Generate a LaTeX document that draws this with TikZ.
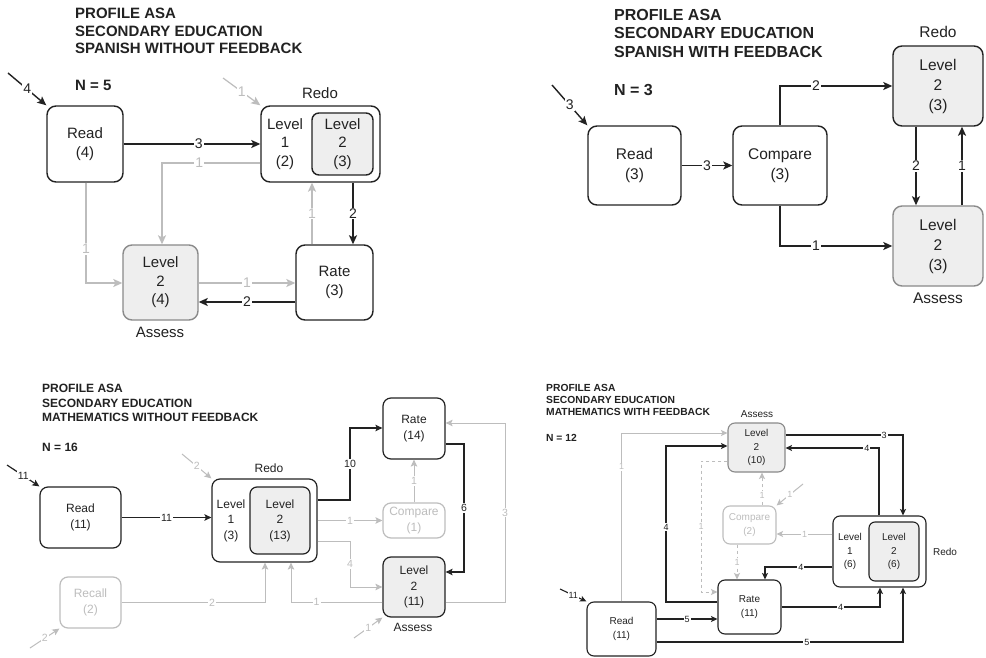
\documentclass[tikz,border=0pt]{standalone}
\usepackage{fontspec}
\setmainfont{Liberation Sans}
\usetikzlibrary{arrows.meta}
\definecolor{dk}{HTML}{222222}
\definecolor{lg}{HTML}{BDBDBD}
\definecolor{fg}{HTML}{EEEEEE}
\definecolor{mg}{HTML}{8A8A8A}
\tikzset{
  bx/.style={draw=dk, line width=1.4pt, rounded corners=9pt, fill=white, inner sep=0pt, align=center, text=dk},
  gbx/.style={bx, fill=fg, draw=mg},
  dgbx/.style={bx, fill=fg},
  fbx/.style={bx, draw=lg, text=lg},
  txt/.style={inner sep=0pt, align=center, text=dk},
  blk/.style={draw=dk, line width=1.4pt, -{Stealth[length=9pt,width=8pt,inset=2pt]}},
  gry/.style={draw=lg, line width=1.2pt, -{Stealth[length=9pt,width=8pt,inset=2pt]}},
  lab/.style={fill=white, inner sep=1pt, text=dk},
  glab/.style={fill=white, inner sep=1pt, text=lg},
  ttl/.style={align=left, anchor=west, inner sep=0pt, text=dk},
}
\begin{document}
\begin{tikzpicture}[x=1pt, y=-1pt]
\fill[white] (0,0) rectangle (986,658);
\useasboundingbox (0,0) rectangle (986,658);

% ================= Q1 =================
\begin{scope}[every node/.append style={font=\fontsize{15}{18.5}\selectfont},
  lab/.append style={font=\fontsize{14}{16}\selectfont},
  glab/.append style={font=\fontsize{14}{16}\selectfont}]
\node[ttl, font=\bfseries\fontsize{15}{17.5}\selectfont] (a1t) at (75,31) {PROFILE ASA\\SECONDARY EDUCATION\\SPANISH WITHOUT FEEDBACK};
\node[ttl, font=\bfseries\fontsize{15}{17.5}\selectfont] (a1n) at (75,85) {N = 5};
\node[bx, minimum width=76, minimum height=76] (a1read) at (85,144) {Read\\(4)};
\node[bx, minimum width=119, minimum height=76] (a1redo) at (320.5,144) {};
\node[dgbx, rounded corners=7pt, minimum width=61, minimum height=62] (a1l2) at (342.5,144) {Level\\2\\(3)};
\node[txt] (a1l1) at (285,144) {Level\\1\\(2)};
\node[gbx, minimum width=75, minimum height=75] (a1as) at (160.5,282.5) {Level\\2\\(4)};
\node[bx, minimum width=77, minimum height=75] (a1rate) at (334.5,282.5) {Rate\\(3)};
\node[txt] (a1redol) at (320,93) {Redo};
\node[txt] (a1asl) at (160,332) {Assess};
\coordinate (a1in) at (8,73);
\coordinate (a1gin) at (223,78);
\draw[blk] (a1in) -- node[lab]{4} (a1read.north west);
\draw[gry] (a1gin) -- node[glab]{1} (a1redo.north west);
\draw[blk] (a1read.east) -- node[lab,pos=0.55]{3} (a1redo.west);
\draw[gry] (a1redo.west |- 0,163) -- node[glab,pos=0.62]{1} (162,163) -- (a1as.north -| 162,0);
\draw[gry] (a1read.south -| 86,0) -- node[glab,pos=0.66]{1} (86,283) -- (a1as.west |- 0,283);
\draw[gry] (a1as.east |- 0,283) -- node[glab]{1} (a1rate.west |- 0,283);
\draw[blk] (a1rate.west |- 0,302) -- node[lab]{2} (a1as.east |- 0,302);
\draw[gry] (a1rate.north -| 312,0) -- node[glab]{1} (a1redo.south -| 312,0);
\draw[blk] (a1redo.south -| 353,0) -- node[lab]{2} (a1rate.north -| 353,0);
\end{scope}

% ================= Q2 =================
\begin{scope}[every node/.append style={font=\fontsize{15.5}{20}\selectfont},
  lab/.append style={font=\fontsize{14}{16}\selectfont}]
\node[ttl, font=\bfseries\fontsize{16}{18.5}\selectfont] (b2t) at (614,33) {PROFILE ASA\\SECONDARY EDUCATION\\SPANISH WITH FEEDBACK};
\node[ttl, font=\bfseries\fontsize{16}{18.5}\selectfont] (b2n) at (614,90) {N = 3};
\node[bx, minimum width=93, minimum height=79] (b2read) at (634.5,165.5) {Read\\(3)};
\node[bx, minimum width=94, minimum height=79] (b2cmp) at (780,165.5) {Compare\\(3)};
\node[dgbx, minimum width=90, minimum height=80] (b2redo) at (938,86) {Level\\2\\(3)};
\node[gbx, minimum width=90, minimum height=80] (b2as) at (938,246) {Level\\2\\(3)};
\node[txt] (b2redol) at (938,32) {Redo};
\node[txt] (b2asl) at (938,298) {Assess};
\coordinate (b2in) at (552,85);
\draw[blk] (b2in) -- node[lab]{3} (b2read.north west);
\draw[blk] (b2read.east) -- node[lab]{3} (b2cmp.west);
\draw[blk] (b2cmp.north) |- node[lab,pos=0.66]{2} (b2redo.west);
\draw[blk] (b2cmp.south) |- node[lab,pos=0.66]{1} (b2as.west);
\draw[blk] (b2redo.south -| 916,0) -- node[lab]{2} (b2as.north -| 916,0);
\draw[blk] (b2as.north -| 962,0) -- node[lab]{1} (b2redo.south -| 962,0);
\end{scope}

% ================= Q3 =================
\begin{scope}[every node/.append style={font=\fontsize{12}{15.5}\selectfont},
  bx/.append style={line width=1.2pt, rounded corners=8pt},
  blk/.append style={line width=1.2pt, -{Stealth[length=7pt,width=6.5pt,inset=1.5pt]}},
  gry/.append style={line width=1pt, -{Stealth[length=7pt,width=6.5pt,inset=1.5pt]}},
  lab/.append style={font=\fontsize{10.5}{12}\selectfont},
  glab/.append style={font=\fontsize{10.5}{12}\selectfont}]
\node[ttl, font=\bfseries\fontsize{12}{14.5}\selectfont] (c3t) at (42,403) {PROFILE ASA\\SECONDARY EDUCATION\\MATHEMATICS WITHOUT FEEDBACK};
\node[ttl, font=\bfseries\fontsize{12}{14.5}\selectfont] (c3n) at (42,447) {N = 16};
\node[bx, minimum width=81, minimum height=61] (c3read) at (80.5,517.5) {Read\\(11)};
\node[bx, minimum width=105, minimum height=83] (c3redo) at (264.5,520.5) {};
\node[dgbx, rounded corners=7pt, minimum width=60, minimum height=67] (c3l2) at (280,520.5) {Level\\2\\(13)};
\node[txt] (c3l1) at (231,520.5) {Level\\1\\(3)};
\node[bx, minimum width=62, minimum height=61] (c3rate) at (414,428.5) {Rate\\(14)};
\node[fbx, minimum width=62, minimum height=35] (c3cmp) at (414,520.5) {Compare\\(1)};
\node[dgbx, minimum width=62, minimum height=60] (c3as) at (414,587) {Level\\2\\(11)};
\node[fbx, minimum width=61, minimum height=51] (c3rec) at (90.5,602.5) {Recall\\(2)};
\node[txt] (c3redol) at (269,468) {Redo};
\node[txt] (c3asl) at (413,627) {Assess};
\coordinate (c3in) at (7,465);
\coordinate (c3gin1) at (30,648);
\coordinate (c3gin2) at (182,454);
\coordinate (c3gin3) at (354,638);
\draw[blk] (c3in) -- node[lab]{11} (c3read.north west);
\draw[gry] (c3gin1) -- node[glab]{2} (c3rec.south west);
\draw[gry] (c3gin2) -- node[glab]{2} (c3redo.north west);
\draw[gry] (c3gin3) -- node[glab]{1} (c3as.south west);
\draw[blk] (c3read.east) -- node[lab]{11} (c3redo.west |- c3read.east);
\draw[blk] (c3redo.east |- 0,500) -- (350,500) -- node[lab]{10} (350,428) -- (c3rate.west |- 0,428);
\draw[gry] (c3redo.east |- c3cmp.west) -- node[glab]{1} (c3cmp.west);
\draw[gry] (c3redo.east |- 0,541) -- (350,541) -- node[glab]{4} (350,587) -- (c3as.west);
\draw[gry] (c3cmp.north) -- node[glab]{1} (c3rate.south);
\draw[blk] (c3rate.east |- 0,444) -- (464,444) -- node[lab]{6} (464,572) -- (c3as.east |- 0,572);
\draw[gry] (c3as.east |- 0,602) -- (505,602) -- node[glab]{3} (505,423) -- (c3rate.east |- 0,423);
\draw[gry] (c3as.west |- 0,602) -- node[glab,pos=0.72]{1} (291,602) -- (c3redo.south -| 291,0);
\draw[gry] (c3rec.east) -- node[glab,pos=0.63]{2} (265,602.5) -- (c3redo.south -| 265,0);
\end{scope}

% ================= Q4 =================
\begin{scope}[every node/.append style={font=\fontsize{10}{13.5}\selectfont},
  bx/.append style={line width=1.1pt, rounded corners=7pt},
  blk/.append style={line width=1.1pt, -{Stealth[length=6.5pt,width=6pt,inset=1.5pt]}},
  gry/.append style={line width=1pt, -{Stealth[length=6.5pt,width=6pt,inset=1.5pt]}},
  lab/.append style={font=\fontsize{9}{11}\selectfont},
  glab/.append style={font=\fontsize{9}{11}\selectfont}]
\node[ttl, font=\bfseries\fontsize{10.3}{12}\selectfont] (d4t) at (546,400) {PROFILE ASA\\SECONDARY EDUCATION\\MATHEMATICS WITH FEEDBACK};
\node[ttl, font=\bfseries\fontsize{10.3}{12}\selectfont] (d4n) at (546,438) {N = 12};
\node[gbx, minimum width=57, minimum height=49] (d4as) at (756.5,447.5) {Level\\2\\(10)};
\node[fbx, minimum width=53, minimum height=38] (d4cmp) at (749.5,525) {Compare\\(2)};
\node[bx, minimum width=93, minimum height=71] (d4redo) at (879.5,551.5) {};
\node[dgbx, rounded corners=6pt, minimum width=50, minimum height=59] (d4l2) at (894,551.5) {Level\\2\\(6)};
\node[txt] (d4l1) at (850,551.5) {Level\\1\\(6)};
\node[bx, minimum width=63, minimum height=54] (d4rate) at (749.5,607) {Rate\\(11)};
\node[bx, minimum width=69, minimum height=54] (d4read) at (621.5,629) {Read\\(11)};
\node[txt] (d4asl) at (757,414) {Assess};
\node[txt] (d4redol) at (945,552) {Redo};
\coordinate (d4in) at (560,589);
\coordinate (d4gin) at (803,484);
\draw[blk] (d4in) -- node[lab]{11} (d4read.north west);
\draw[gry] (d4gin) -- node[glab]{1} (d4cmp.north east);
\draw[gry] (d4read.north) -- node[glab,pos=0.8]{1} (d4read.north |- 0,433) -- (d4as.west |- 0,433);
\draw[blk] (d4rate.west |- 0,602) -- (666,602) -- node[lab,pos=0.48]{4} (666,446) -- (d4as.west |- 0,446);
\draw[gry, dashed] (d4as.west |- 0,461) -- (701,461) -- node[glab]{1} (701,592) -- (d4rate.west |- 0,592);
\draw[gry, dashed] (d4cmp.north -| 762,0) -- node[glab,pos=0.3]{1} (d4as.south -| 762,0);
\draw[gry, dashed] (d4cmp.south -| 737,0) -- node[glab]{1} (d4rate.north -| 737,0);
\draw[gry] (d4redo.west |- 0,534) -- node[glab]{1} (d4cmp.east |- 0,534);
\draw[blk] (d4as.east |- 0,435) -- node[lab,pos=0.84]{3} (903,435) -- (d4redo.north -| 903,0);
\draw[blk] (d4redo.north -| 879,0) -- (879,448) -- node[lab,pos=0.13]{4} (d4as.east |- 0,448);
\draw[blk] (d4redo.west |- 0,567) -- node[lab,pos=0.47]{4} (765,567) -- (d4rate.north -| 765,0);
\draw[blk] (d4rate.east) -- node[lab,pos=0.6]{4} (880,607) -- (d4redo.south -| 880,0);
\draw[blk] (d4read.east |- 0,619) -- node[lab]{5} (d4rate.west |- 0,619);
\draw[blk] (d4read.east |- 0,642) -- node[lab,pos=0.61]{5} (903,642) -- (d4redo.south -| 903,0);
\end{scope}
\end{tikzpicture}
\end{document}
